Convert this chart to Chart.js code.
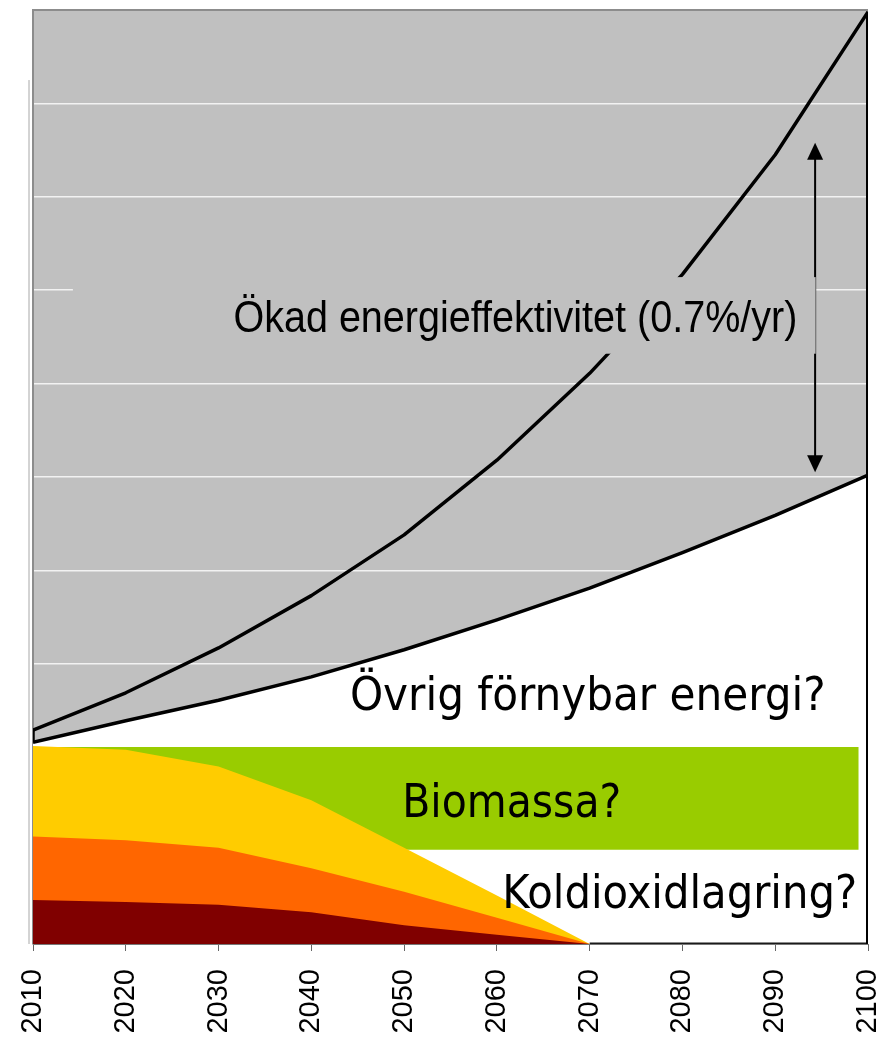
<!DOCTYPE html>
<html>
<head>
<meta charset="utf-8">
<script src="https://cdn.jsdelivr.net/npm/chart.js@4.4.1/dist/chart.umd.min.js"></script>
<style>
  html, body { margin: 0; padding: 0; background: #fff; }
  #wrap { width: 882px; height: 1044px; }
</style>
</head>
<body>
<div id="wrap"><canvas id="chart" width="882" height="1044"></canvas></div>
<script>
// ---- Data ----
const years = [2010, 2020, 2030, 2040, 2050, 2060, 2070, 2080, 2090, 2100];
const tickYears = ['2010', '2020', '2030', '2040', '2050', '2060', '2070', '2080', '2090', '2100'];

// total demand without efficiency gains (upper curve)
const demandNoEfficiency = [2.29, 2.69, 3.17, 3.73, 4.38, 5.18, 6.11, 7.17, 8.45, 9.98];
// demand with 0.7%/yr efficiency (lower curve)
const demandEfficient = [2.16, 2.39, 2.61, 2.86, 3.15, 3.47, 3.81, 4.19, 4.59, 5.02];

// fossil bands, cumulative tops (dark red, orange, yellow)
const darkBandTop = [0.47, 0.45, 0.42, 0.34, 0.20, 0.10, 0, 0, 0, 0];
const midBandTop = [1.15, 1.11, 1.03, 0.81, 0.56, 0.28, 0, 0, 0, 0];
const lightBandTop = [2.12, 2.08, 1.90, 1.54, 1.03, 0.52, 0, 0, 0, 0];

// biomass block
const biomassYears = [2010, 2099];
const biomassTop = 2.11;
const biomassBottom = 1.01;

// arrow for efficiency gap
const arrowYear = 2094.3;
const arrowFrom = 8.58;
const arrowTo = 5.05;

const pts = (xs, ys) => xs.map((x, i) => ({ x: x, y: ys[i] }));

const decor = {
    id: 'decor',
    beforeDraw(chart) {
        const { ctx, chartArea: a } = chart;
        ctx.save();
        ctx.fillStyle = '#c0c0c0';
        ctx.fillRect(a.left, a.top, a.right - a.left, a.bottom - a.top);
        ctx.restore();
    },
    afterDatasetsDraw(chart) {
        const { ctx, chartArea: a, scales: { x, y } } = chart;
        ctx.save();

        // top border of plot
        ctx.strokeStyle = '#8c8c8c';
        ctx.lineWidth = 2;
        ctx.beginPath();
        ctx.moveTo(a.left, a.top);
        ctx.lineTo(a.right, a.top);
        ctx.stroke();

        // stray left rule
        ctx.strokeStyle = '#a8a8a8';
        ctx.lineWidth = 1;
        ctx.beginPath();
        ctx.moveTo(a.left - 4, y.getPixelForValue(9.25));
        ctx.lineTo(a.left - 4, a.bottom);
        ctx.stroke();

        // arrow
        const ax = x.getPixelForValue(arrowYear);
        const y1 = y.getPixelForValue(arrowFrom);
        const y2 = y.getPixelForValue(arrowTo);
        ctx.strokeStyle = '#000';
        ctx.fillStyle = '#000';
        ctx.lineWidth = 2;
        ctx.beginPath();
        ctx.moveTo(ax, y1 + 14);
        ctx.lineTo(ax, y2 - 14);
        ctx.stroke();
        ctx.beginPath();
        ctx.moveTo(ax, y1); ctx.lineTo(ax - 8, y1 + 17); ctx.lineTo(ax + 8, y1 + 17); ctx.closePath();
        ctx.fill();
        ctx.beginPath();
        ctx.moveTo(ax, y2); ctx.lineTo(ax - 8, y2 - 17); ctx.lineTo(ax + 8, y2 - 17); ctx.closePath();
        ctx.fill();

        // label box for the efficiency text
        const bx1 = x.getPixelForValue(2014.3);
        const by1 = y.getPixelForValue(7.14);
        const by2 = y.getPixelForValue(6.32);
        ctx.fillStyle = '#c0c0c0';
        ctx.fillRect(bx1, by1, ax - bx1, by2 - by1);
        ctx.strokeStyle = '#8a8a8a';
        ctx.lineWidth = 1;
        ctx.beginPath();
        ctx.moveTo(ax + 0.5, by1);
        ctx.lineTo(ax + 0.5, by2);
        ctx.stroke();

        ctx.fillStyle = '#000';
        fitText(ctx, 'Ökad energieffektivitet (0.7%/yr)', '"Liberation Sans", Arial, sans-serif', 564,
            x.getPixelForValue(2031.6), y.getPixelForValue(6.55), 'left', 44);

        const tah = '"DejaVu Sans Condensed", "DejaVu Sans", sans-serif';
        fitText(ctx, 'Övrig förnybar energi?', tah, 476, x.getPixelForValue(2069.8), y.getPixelForValue(2.51), 'center');
        fitText(ctx, 'Biomassa?', tah, 219, x.getPixelForValue(2061.6), y.getPixelForValue(1.36), 'center');
        fitText(ctx, 'Koldioxidlagring?', tah, 355, x.getPixelForValue(2079.7), y.getPixelForValue(0.385), 'center');

        ctx.restore();
    }
};

// draw text so that it spans the given width; with a fixed size, squeeze horizontally
function fitText(ctx, text, family, width, px, py, align, size) {
    ctx.save();
    ctx.textAlign = align;
    ctx.textBaseline = 'alphabetic';
    if (size) {
        ctx.font = size + 'px ' + family;
        const sx = width / ctx.measureText(text).width;
        ctx.translate(px, py);
        ctx.scale(sx, 1);
        ctx.fillText(text, 0, 0);
    } else {
        ctx.font = '100px ' + family;
        const fs = 100 * width / ctx.measureText(text).width;
        ctx.font = fs.toFixed(2) + 'px ' + family;
        ctx.fillText(text, px, py);
    }
    ctx.restore();
}

const zeroSeg = {
    borderColor: c => (c.p0.parsed.y === 0 && c.p1.parsed.y === 0) ? '#1a1a1a' : 'rgba(0,0,0,0)'
};

new Chart(document.getElementById('chart'), {
    type: 'line',
    data: {
        datasets: [
            {
                label: 'Utan effektivisering',
                data: pts(years, demandNoEfficiency),
                borderColor: '#000', borderWidth: 3.5, fill: false, order: 1
            },
            {
                label: 'Med effektivisering',
                data: pts(years, demandEfficient),
                borderColor: '#000', borderWidth: 3.5,
                fill: 'origin', backgroundColor: '#ffffff', order: 10
            },
            {
                label: 'Biomassa',
                data: pts(biomassYears, [biomassTop, biomassTop]),
                borderWidth: 0, borderColor: 'rgba(0,0,0,0)',
                fill: { value: biomassBottom }, backgroundColor: '#99cc00', order: 9
            },
            {
                label: 'Ljus',
                data: pts(years, lightBandTop),
                borderWidth: 0, borderColor: 'rgba(0,0,0,0)',
                fill: 'origin', backgroundColor: '#ffcc00', order: 8
            },
            {
                label: 'Mellan',
                data: pts(years, midBandTop),
                borderWidth: 0, borderColor: 'rgba(0,0,0,0)',
                fill: 'origin', backgroundColor: '#ff6600', order: 7
            },
            {
                label: 'Mörk',
                data: pts(years, darkBandTop),
                borderWidth: 3, segment: zeroSeg,
                fill: 'origin', backgroundColor: '#800000', order: 6
            },
            {
                label: 'Start',
                data: pts([2010, 2010], [demandEfficient[0], demandNoEfficiency[0]]),
                borderColor: '#000', borderWidth: 3.5, fill: false, order: 0
            },
            {
                label: 'Slut',
                data: pts([2100, 2100], [0, demandNoEfficiency[9]]),
                borderColor: '#000', borderWidth: 4, fill: false, order: 0
            }
        ]
    },
    options: {
        responsive: false,
        animation: false,
        layout: { padding: { left: 33, right: 14, top: 10, bottom: 0 } },
        elements: { point: { radius: 0 }, line: { tension: 0, borderJoinStyle: 'round' } },
        plugins: { legend: { display: false }, tooltip: { enabled: false } },
        scales: {
            x: {
                type: 'linear', min: 2010, max: 2100,
                afterBuildTicks: s => { s.ticks = tickYears.map(t => ({ value: Number(t) })); },
                afterFit: s => { s.paddingLeft = 0; s.paddingRight = 0; s.height = 100; },
                ticks: {
                    callback: v => String(v),
                    maxRotation: 90, minRotation: 90, padding: 18,
                    color: '#000',
                    font: { family: '"Liberation Sans", Arial, sans-serif', size: 29 }
                },
                grid: { drawOnChartArea: false, drawTicks: true, tickLength: 7, color: '#666', lineWidth: 1 },
                border: { display: true, color: '#777', width: 1 }
            },
            y: {
                min: 0, max: 10,
                afterFit: s => { s.paddingTop = 0; s.paddingBottom = 0; },
                ticks: { display: false, stepSize: 1 },
                grid: { drawTicks: false, color: '#f2f2f2', lineWidth: 1.5 },
                border: { display: true, color: '#8c8c8c', width: 2 }
            }
        }
    },
    plugins: [decor]
});
</script>
</body>
</html>
